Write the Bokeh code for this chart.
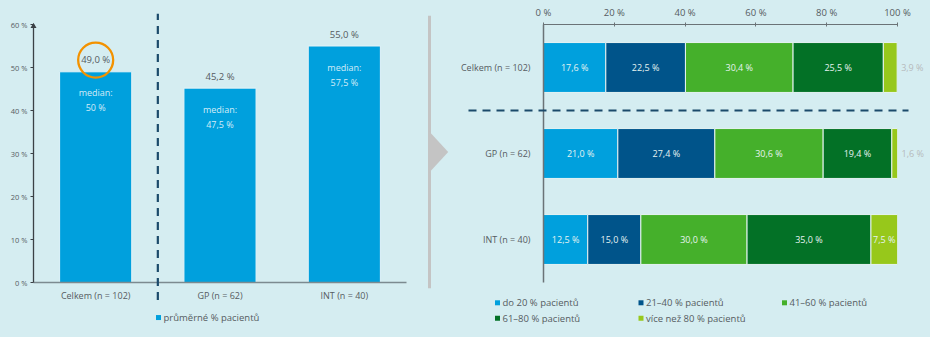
from bokeh.plotting import figure
from bokeh.models import ColumnDataSource, FactorRange, Range1d, FixedTicker
from bokeh.layouts import row
from bokeh.embed import file_html
from bokeh.resources import INLINE
from bokeh.core.properties import value
import numpy as np

# ---------------- data ----------------
groups = ["Celkem (n = 102)", "GP (n = 62)", "INT (n = 40)"]
mean_pct = [49.0, 45.2, 55.0]
median_pct = [50.0, 47.5, 57.5]
mean_series_name = "průměrné % pacientů"
median_word = "median:"
left_ticks = [0, 10, 20, 30, 40, 50, 60]

class_names = ["do 20 % pacientů", "21–40 % pacientů", "41–60 % pacientů",
               "61–80 % pacientů", "více než 80 % pacientů"]
share_do20 = [17.6, 21.0, 12.5]
share_21_40 = [22.5, 27.4, 15.0]
share_41_60 = [30.4, 30.6, 30.0]
share_61_80 = [25.5, 19.4, 35.0]
share_over80 = [3.9, 1.6, 7.5]
right_ticks = [0, 20, 40, 60, 80, 100]

# ---------------- styles ----------------
BG = "#d5edf1"
TXT = "#555c61"
NAVY = "#1b4a6b"
FONT = "Open Sans"
C_LB = "#00a0dd"
SEG_COLORS = ["#00a0dd", "#00548a", "#45b02b", "#037126", "#97c81b"]
GREY_DIV = "#c4c4c4"
SW = 5  # legend swatch size in px


def cz(v, force_dec=True):
    if not force_dec and float(v).is_integer():
        return f"{int(v)} %"
    return f"{v:.1f}".replace(".", ",") + " %"


# ---------------- left chart ----------------
L_W = 420
L_LEFT, L_RIGHT, L_TOP, L_BOT = 33, 406, 17, 282
L_PX = (L_BOT - L_TOP) / (left_ticks[-1] - left_ticks[0])
L_PXX = (L_RIGHT - L_LEFT) / len(groups)


def lx(px):
    return (px - L_LEFT) / L_PXX


def ly(py):
    return left_ticks[0] + (L_BOT - py) / L_PX


left = figure(width=L_W, height=337, x_range=FactorRange(factors=groups),
              y_range=Range1d(left_ticks[0], left_ticks[-1]),
              output_backend="svg", toolbar_location=None,
              min_border_left=L_LEFT, min_border_right=L_W - L_RIGHT,
              min_border_top=L_TOP, min_border_bottom=337 - L_BOT,
              background_fill_color=BG, border_fill_color=BG,
              outline_line_color=None, styles={"background-color": BG})
left.grid.visible = False

lsrc = ColumnDataSource(dict(
    g=groups, mean=mean_pct, median=median_pct,
    mean_txt=[cz(v) for v in mean_pct],
    med_txt=[cz(v, force_dec=False) for v in median_pct],
))
bars = left.vbar(x="g", top="mean", width=0.58, source=lsrc,
                 fill_color=C_LB, line_color="#e4f3f8", line_width=1)
left.text(x="g", y="mean", text="mean_txt", source=lsrc, y_offset=-12,
          text_align="center", text_baseline="middle",
          text_font=value(FONT), text_font_size="9.5px", text_color=TXT)
left.text(x="g", y="mean", text=value(median_word), source=lsrc, y_offset=21,
          text_align="center", text_baseline="middle",
          text_font=value(FONT), text_font_size="9px", text_color="#d4ecf8")
left.text(x="g", y="mean", text="med_txt", source=lsrc, y_offset=36,
          text_align="center", text_baseline="middle",
          text_font=value(FONT), text_font_size="9px", text_color="#d4ecf8")

# orange highlight circle around the first mean label
left.scatter(x=[groups[0]], y=[mean_pct[0] + 12 / L_PX], marker="circle",
             size=35, fill_alpha=0, line_color="#f39200", line_width=2.3)

# axis arrow head
left.scatter(x=[0], y=[left_ticks[-1] - 0.4], marker="triangle", size=6,
             fill_color="#3b4146", line_color=None, level="overlay")

# dashed separator after the first group
left.segment(x0=[1], y0=[ly(300)], x1=[1], y1=[ly(6)],
             line_color=NAVY, line_width=2.2, line_dash="8 6", level="overlay")

# legend (drawn below the axis)
left.segment(x0=[lx(158 - SW / 2)], y0=[ly(318)], x1=[lx(158 + SW / 2)], y1=[ly(318)],
             line_color=C_LB, line_width=SW, line_cap="butt", level="overlay")
left.text(x=[lx(163)], y=[ly(318)], text=[mean_series_name], text_align="left",
          text_baseline="middle", text_font=value(FONT), text_font_size="9.5px",
          text_color=TXT, level="overlay")

ya = left.yaxis[0]
ya.ticker = FixedTicker(ticks=left_ticks)
ya.major_label_overrides = {t: f"{t} %" for t in left_ticks}
ya.axis_line_color = "#3b4146"
ya.axis_line_width = 1.3
ya.major_tick_out = 3
ya.major_tick_in = 0
ya.major_tick_line_color = "#3b4146"
ya.minor_tick_line_color = None
ya.major_label_standoff = 3
ya.major_label_text_font = FONT
ya.major_label_text_font_size = "7.5px"
ya.major_label_text_color = TXT

xa = left.xaxis[0]
xa.axis_line_color = "#7c8a90"
xa.axis_line_width = 1.5
xa.major_tick_line_color = None
xa.major_tick_out = 0
xa.major_label_standoff = 6
xa.major_label_text_font = FONT
xa.major_label_text_font_size = "9px"
xa.major_label_text_color = TXT

# ---------------- right chart ----------------
R_X0 = L_W
R_LEFT, R_RIGHT, R_TOP, R_BOT = 543, 897, 24, 291
R_PX = (R_RIGHT - R_LEFT) / (right_ticks[-1] - right_ticks[0])
R_PY = (R_BOT - R_TOP) / len(groups)


def rx_(px):
    return right_ticks[0] + (px - R_LEFT) / R_PX


def ry_(py):
    return (R_BOT - py) / R_PY


right = figure(width=930 - R_X0, height=337,
               x_range=Range1d(right_ticks[0], right_ticks[-1]),
               y_range=FactorRange(factors=list(reversed(groups))),
               x_axis_location="above",
               output_backend="svg", toolbar_location=None,
               min_border_left=R_LEFT - R_X0, min_border_right=930 - R_RIGHT,
               min_border_top=R_TOP, min_border_bottom=337 - R_BOT,
               background_fill_color=BG, border_fill_color=BG,
               outline_line_color=None, styles={"background-color": BG})
right.grid.visible = False

# divider with arrow between the two panels
right.segment(x0=[rx_(429)], y0=[ry_(15)], x1=[rx_(429)], y1=[ry_(297)],
              line_color=GREY_DIV, line_width=3, level="overlay")
right.patch(x=[rx_(429), rx_(447.7), rx_(429)], y=[ry_(135), ry_(156), ry_(177)],
            fill_color=GREY_DIV, line_color=None, level="overlay")

keys = ["s1", "s2", "s3", "s4", "s5"]
series = [share_do20, share_21_40, share_41_60, share_61_80, share_over80]
rsrc = ColumnDataSource(dict(g=groups, **{k: s for k, s in zip(keys, series)}))
rends = right.hbar_stack(keys, y="g", height=0.58, color=SEG_COLORS, source=rsrc,
                         line_color="#e6f3f3", line_width=1)

vals = np.array(series)               # shape (5, 3)
ends = np.cumsum(vals, axis=0)
starts = ends - vals
in_x, in_y, in_t, out_x, out_y, out_t = [], [], [], [], [], []
for i in range(vals.shape[0]):
    for j, g in enumerate(groups):
        v = vals[i, j]
        if v >= 5:
            in_x.append(starts[i, j] + v / 2); in_y.append(g); in_t.append(cz(v))
        else:
            out_x.append(ends[i, j]); out_y.append(g); out_t.append(cz(v))
right.text(x=in_x, y=in_y, text=in_t, text_align="center", text_baseline="middle",
           text_font=value(FONT), text_font_size="9px", text_color="#e6f3f1")
right.text(x=out_x, y=out_y, text=out_t, x_offset=4, text_align="left",
           text_baseline="middle", text_font=value(FONT), text_font_size="9px",
           text_color="#b5babc", level="overlay")

# dashed separator below the first group
sep_y = len(groups) - 1
right.segment(x0=[rx_(468)], y0=[sep_y], x1=[rx_(908)], y1=[sep_y],
              line_color=NAVY, line_width=2.2, line_dash="8 6", level="overlay")

# legend: 3 columns, 2 rows (drawn below the plot frame)
col_px = [497, 640.5, 784]
row_py = [312, 328]
sw_x0, sw_x1, sw_y, lab_x, lab_y = [], [], [], [], []
for k in range(len(class_names)):
    c, r = k % 3, k // 3
    sw_x0.append(rx_(col_px[c] - SW / 2)); sw_x1.append(rx_(col_px[c] + SW / 2))
    sw_y.append(ry_(row_py[r]))
    lab_x.append(rx_(col_px[c] + 5)); lab_y.append(ry_(row_py[r]))
right.segment(x0=sw_x0, y0=sw_y, x1=sw_x1, y1=sw_y, line_color=SEG_COLORS,
              line_width=SW, line_cap="butt", level="overlay")
right.text(x=lab_x, y=lab_y, text=class_names, text_align="left",
           text_baseline="middle", text_font=value(FONT), text_font_size="9.5px",
           text_color=TXT, level="overlay")

rx = right.xaxis[0]
rx.ticker = FixedTicker(ticks=right_ticks)
rx.major_label_overrides = {t: f"{t} %" for t in right_ticks}
rx.axis_line_color = "#6b7377"
rx.axis_line_width = 1.2
rx.major_tick_in = 2
rx.major_tick_out = 2
rx.major_tick_line_color = "#6b7377"
rx.minor_tick_line_color = None
rx.major_label_standoff = 4
rx.major_label_text_font = FONT
rx.major_label_text_font_size = "9.5px"
rx.major_label_text_color = TXT

ry = right.yaxis[0]
ry.axis_line_color = "#6b7377"
ry.axis_line_width = 1.5
ry.major_tick_line_color = None
ry.major_tick_out = 0
ry.major_label_standoff = 13
ry.major_label_text_font = FONT
ry.major_label_text_font_size = "9px"
ry.major_label_text_color = TXT

layout = row(left, right, spacing=0, styles={"background-color": BG})
open("out.html", "w").write(file_html(layout, INLINE))
